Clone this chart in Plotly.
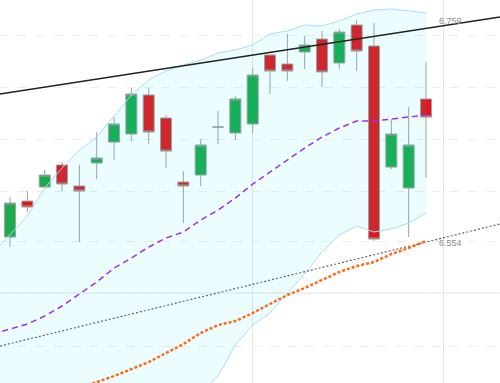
import plotly.graph_objects as go

# ---- data ----
candle_idx = list(range(25))
opens  = [6.5543, 6.5887, 6.6021, 6.6232, 6.6031, 6.6251, 6.6451, 6.6528, 6.6901, 6.6681,
          6.6069, 6.6136, 6.6595, 6.6538, 6.6624, 6.7283, 6.7197, 6.7312, 6.7436, 6.7207,
          6.7570, 6.7369, 6.6212, 6.6012, 6.6863]
highs  = [6.5926, 6.5983, 6.6184, 6.6260, 6.6232, 6.6547, 6.6690, 6.6968, 6.6968, 6.6710,
          6.6174, 6.6480, 6.6748, 6.6891, 6.7159, 6.7283, 6.7484, 6.7465, 6.7513, 6.7532,
          6.7618, 6.7589, 6.6671, 6.6786, 6.7216]
lows   = [6.5448, 6.5782, 6.6002, 6.5983, 6.5495, 6.6098, 6.6279, 6.6461, 6.6432, 6.6203,
          6.5677, 6.6031, 6.6432, 6.6471, 6.6538, 6.6910, 6.7035, 6.7149, 6.6977, 6.7149,
          6.7130, 6.5505, 6.6193, 6.5543, 6.6107]
closes = [6.5868, 6.5830, 6.6136, 6.6050, 6.5983, 6.6299, 6.6624, 6.6910, 6.6547, 6.6365,
          6.6031, 6.6423, 6.6595, 6.6863, 6.7092, 6.7130, 6.7130, 6.7379, 6.7121, 6.7503,
          6.7321, 6.5524, 6.6528, 6.6423, 6.6690]

band_idx = list(range(-1, 25))
bb_upper = [6.5390, 6.5572, 6.5744, 6.6012, 6.6203, 6.6375, 6.6499, 6.6700, 6.6901, 6.7044,
            6.7130, 6.7188, 6.7235, 6.7302, 6.7331, 6.7379, 6.7484, 6.7513, 6.7570, 6.7560,
            6.7608, 6.7675, 6.7713, 6.7723, 6.7704, 6.7685]
bb_mid   = [6.4616, 6.4664, 6.4712, 6.4788, 6.4884, 6.4998, 6.5113, 6.5247, 6.5342, 6.5448,
            6.5534, 6.5591, 6.5706, 6.5801, 6.5916, 6.6050, 6.6165, 6.6279, 6.6394, 6.6499,
            6.6585, 6.6652, 6.6652, 6.6671, 6.6690, 6.6710]
bb_lower = [6.3794, 6.3756, 6.3679, 6.3584, 6.3564, 6.3622, 6.3717, 6.3794, 6.3794, 6.3851,
            6.3937, 6.3985, 6.4061, 6.4214, 6.4511, 6.4702, 6.4817, 6.5008, 6.5190, 6.5400,
            6.5562, 6.5648, 6.5591, 6.5620, 6.5677, 6.5773]
slow_ma  = [6.3937, 6.3985, 6.4023, 6.4061, 6.4100, 6.4157, 6.4214, 6.4281, 6.4348, 6.4434,
            6.4520, 6.4626, 6.4702, 6.4740, 6.4817, 6.4903, 6.4989, 6.5056, 6.5132, 6.5209,
            6.5266, 6.5304, 6.5381, 6.5438, 6.5505]

trend_x = [-0.58, 28.27]
upper_trend = [6.6910, 6.7646]
lower_trend = [6.4501, 6.5668]

grid_levels = [6.4501, 6.5008, 6.5505, 6.5983, 6.6480, 6.6977, 6.7474]
vgrid_idx = [14, 25]
label_upper = ("6.759", 6.7608)
label_lower = ("6.554", 6.5486)

x_range = [-0.58, 28.27]
y_range = [6.4148, 6.7809]

fig = go.Figure()

# Bollinger band fill
fig.add_trace(go.Scatter(x=band_idx, y=bb_upper, mode="lines",
                         line=dict(color="#a9ddf7", width=1), hoverinfo="skip"))
fig.add_trace(go.Scatter(x=band_idx, y=bb_lower, mode="lines",
                         line=dict(color="#a9ddf7", width=1), fill="tonexty",
                         fillcolor="rgba(0,230,255,0.08)", hoverinfo="skip"))

fig.add_trace(go.Candlestick(
    x=candle_idx, open=opens, high=highs, low=lows, close=closes,
    increasing=dict(fillcolor="#1bab4b", line=dict(color="#a0a0a0", width=1)),
    decreasing=dict(fillcolor="#e2161c", line=dict(color="#a0a0a0", width=1)),
    whiskerwidth=0,
))

fig.add_trace(go.Scatter(x=trend_x, y=lower_trend, mode="lines",
                         line=dict(color="#666666", width=1.2, dash="2px,2px")))
fig.add_trace(go.Scatter(x=candle_idx, y=slow_ma, mode="lines",
                         line=dict(color="#ff6a12", width=2.5, dash="3px,2px")))
fig.add_trace(go.Scatter(x=band_idx, y=bb_mid, mode="lines",
                         line=dict(color="#a22cf5", width=1.5, dash="6px,4px")))
fig.add_trace(go.Scatter(x=trend_x, y=upper_trend, mode="lines",
                         line=dict(color="#222222", width=1.6)))

# solid level line
fig.add_shape(type="line", xref="paper", x0=0, x1=1, yref="y",
              y0=grid_levels[1], y1=grid_levels[1],
              line=dict(color="#ececec", width=1.5), layer="below")

for txt, yv in (label_upper, label_lower):
    fig.add_annotation(x=24.64, y=yv, text=txt, showarrow=False, xanchor="left",
                       yanchor="middle", font=dict(size=9, color="#8a8a8a",
                                                   family="Liberation Sans, Arial"))

fig.update_layout(
    width=500, height=383, margin=dict(l=0, r=0, t=0, b=0),
    paper_bgcolor="white", plot_bgcolor="white", showlegend=False,
    boxgap=0.365, boxgroupgap=0,
    xaxis=dict(range=x_range, rangeslider=dict(visible=False), tickvals=vgrid_idx,
               showticklabels=False, showgrid=True, gridcolor="#e4e4e4", gridwidth=1,
               zeroline=False, showline=False, ticks=""),
    yaxis=dict(range=y_range, tickvals=grid_levels, showticklabels=False,
               showgrid=True, gridcolor="#eeeeee", griddash="dash", gridwidth=1,
               zeroline=False, showline=False, ticks=""),
)

fig.write_html("out.html")
